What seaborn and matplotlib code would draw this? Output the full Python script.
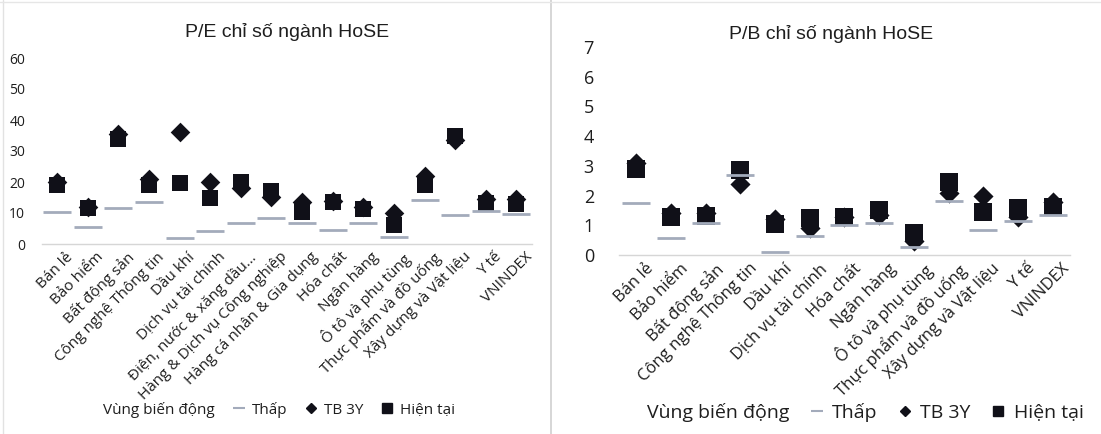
import matplotlib
matplotlib.use("Agg")
import matplotlib.pyplot as plt
import matplotlib.transforms as mtrans
import seaborn as sns
import pandas as pd
from matplotlib.lines import Line2D
from matplotlib.patches import Patch

# ---------------- data ----------------
pe_categories = ["Bán lẻ", "Bảo hiểm", "Bất động sản", "Công nghệ Thông tin", "Dầu khí",
                 "Dịch vụ tài chính", "Điện, nước & xăng dầu…", "Hàng & Dịch vụ Công nghiệp",
                 "Hàng cá nhân & Gia dụng", "Hóa chất", "Ngân hàng", "Ô tô và phụ tùng",
                 "Thực phẩm và đồ uống", "Xây dựng và Vật liệu", "Y tế", "VNINDEX"]
pe_low = [10.4, 5.6, 11.5, 13.5, 2.0, 4.2, 6.9, 8.5, 6.7, 4.5, 6.9, 2.2, 14.2, 9.2, 10.8, 9.7]
pe_avg3y = [20.0, 12.0, 35.5, 21.0, 36.0, 20.0, 18.0, 15.3, 13.5, 14.0, 12.0, 9.9, 21.8, 33.6, 14.4, 14.4]
pe_now = [19.0, 11.5, 34.0, 19.0, 19.8, 15.0, 20.0, 17.0, 10.4, 13.7, 11.2, 6.1, 19.0, 34.7, 13.1, 12.9]

pb_categories = ["Bán lẻ", "Bảo hiểm", "Bất động sản", "Công nghệ Thông tin", "Dầu khí",
                 "Dịch vụ tài chính", "Hóa chất", "Ngân hàng", "Ô tô và phụ tùng",
                 "Thực phẩm và đồ uống", "Xây dựng và Vật liệu", "Y tế", "VNINDEX"]
pb_low = [1.74, 0.56, 1.08, 2.70, 0.11, 0.65, 1.00, 1.09, 0.27, 1.83, 0.84, 1.15, 1.35]
pb_avg3y = [3.10, 1.40, 1.40, 2.40, 1.20, 0.90, 1.29, 1.35, 0.47, 2.10, 2.00, 1.29, 1.79]
pb_now = [2.90, 1.29, 1.32, 2.86, 1.06, 1.23, 1.27, 1.50, 0.74, 2.46, 1.46, 1.57, 1.60]

pe_title = "P/E chỉ số ngành HoSE"
pb_title = "P/B chỉ số ngành HoSE"
pe_yticks = [0, 10, 20, 30, 40, 50, 60]
pb_yticks = [0, 1, 2, 3, 4, 5, 6, 7]
legend_labels = ["Vùng biến động", "Thấp", "TB 3Y", "Hiện tại"]

# ---------------- style ----------------
sns.set_theme(style="white")
plt.rcParams['font.family'] = ['Open Sans', 'DejaVu Sans']

TXT = "#1e1e1e"
LOW_C = "#a3abbb"
MARK_C = "#101018"

fig = plt.figure(figsize=(11.01, 4.34), dpi=100)
ax1 = fig.add_axes([0.038, 1 - 244 / 434, 0.445, (244 - 58) / 434])
ax2 = fig.add_axes([0.5622, 1 - 255 / 434, 0.4096, (255 - 47) / 434])


def draw(ax, cats, low, avg, now, yticks, title, ysize, xsize, lsize, tsize, ypad, title_x, title_y,
         msq, mdia, dash_w, leg_anchor, leg_gap, lab_dx):
    df = pd.DataFrame({"cat": cats, "low": low, "avg": avg, "now": now})
    sns.scatterplot(data=df, x="cat", y="avg", ax=ax, marker="D", s=mdia,
                    color=MARK_C, edgecolor=MARK_C, linewidth=0, zorder=3)
    sns.scatterplot(data=df, x="cat", y="now", ax=ax, marker="s", s=msq,
                    color=MARK_C, edgecolor=MARK_C, linewidth=0, zorder=4)
    sns.scatterplot(data=df, x="cat", y="low", ax=ax, marker="_", s=dash_w,
                    color=LOW_C, linewidth=2.0, zorder=5)
    ax.set_xlim(-0.5, len(cats) - 0.5)
    ax.set_ylim(yticks[0], yticks[-1])
    ax.set_yticks(yticks)
    ax.set_yticklabels([str(t) for t in yticks], fontsize=ysize, color=TXT)
    ax.tick_params(axis="y", length=0, pad=ypad)
    ax.tick_params(axis="x", length=0, pad=4)
    ax.set_xticks(range(len(cats)))
    ax.set_xticklabels(cats, rotation=45, ha="right", rotation_mode="anchor",
                       fontsize=xsize, color=TXT)
    off = mtrans.ScaledTranslation(lab_dx / 100.0, 0, fig.dpi_scale_trans)
    for lab in ax.get_xticklabels():
        lab.set_transform(lab.get_transform() + off)
    ax.set_xlabel("")
    ax.set_ylabel("")
    for s in ["top", "right", "left"]:
        ax.spines[s].set_visible(False)
    ax.spines["bottom"].set_color("#d6d6d6")
    ax.spines["bottom"].set_linewidth(1.0)
    ax.set_title(title, fontsize=tsize, color=TXT, x=title_x, y=title_y,
                 family=["Liberation Sans", "DejaVu Sans"])
    handles = [Patch(facecolor="none", edgecolor="none"),
               Line2D([], [], marker="_", color=LOW_C, linestyle="none", markersize=9, markeredgewidth=1.5),
               Line2D([], [], marker="D", color=MARK_C, linestyle="none", markersize=5),
               Line2D([], [], marker="s", color=MARK_C, linestyle="none", markersize=6.5)]
    ax.legend(handles, legend_labels, loc="center", bbox_to_anchor=leg_anchor, ncol=4,
              frameon=False, fontsize=lsize, handlelength=0.8, handletextpad=0.4,
              columnspacing=leg_gap, labelcolor=TXT)


draw(ax1, pe_categories, pe_low, pe_avg3y, pe_now, pe_yticks, pe_title,
     ysize=10, xsize=11, lsize=11, tsize=14, ypad=12, title_x=0.5, title_y=1.07,
     msq=133, mdia=100, dash_w=380, leg_anchor=(0.465, -0.89), leg_gap=1.2, lab_dx=8)
draw(ax2, pb_categories, pb_low, pb_avg3y, pb_now, pb_yticks, pb_title,
     ysize=13, xsize=12, lsize=14, tsize=14, ypad=18, title_x=0.47, title_y=1.0,
     msq=165, mdia=105, dash_w=380, leg_anchor=(0.52, -0.755), leg_gap=1.0, lab_dx=9)

# panel separators / borders
fig.add_artist(Line2D([0.5005, 0.5005], [0.0, 1.0], color="#cfcfcf", linewidth=1.2))
fig.add_artist(Line2D([0.003, 0.003], [0.0, 1.0], color="#e2e2e2", linewidth=1.0))
fig.add_artist(Line2D([0.0, 1.0], [0.996, 0.996], color="#e6e6e6", linewidth=1.0))

fig.savefig("out.png", dpi=100, facecolor="white")
